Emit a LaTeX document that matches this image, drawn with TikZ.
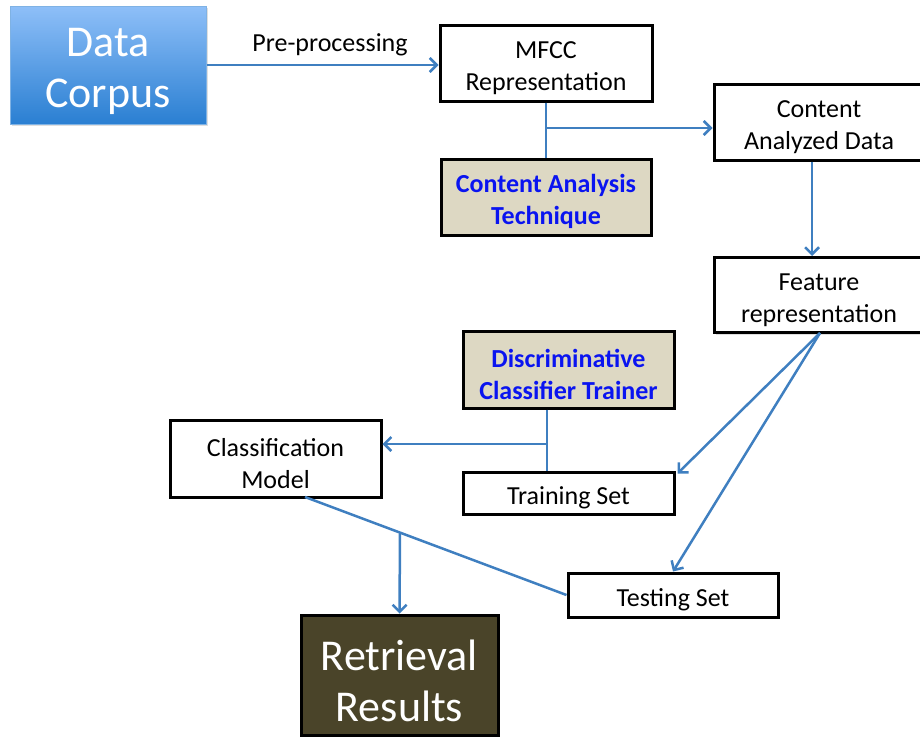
\documentclass[tikz,border=0pt]{standalone}
\usepackage{fontspec}
\setmainfont{Carlito}
\usetikzlibrary{arrows.meta,shadows,calc}
\definecolor{conn}{HTML}{3F7FC0}
\definecolor{beige}{HTML}{DDD8C3}
\definecolor{olive}{HTML}{4A4429}
\definecolor{txtblue}{HTML}{0A14F0}
\definecolor{dctop}{HTML}{8EBFF8}
\definecolor{dcbot}{HTML}{2A7FD2}
\newcommand\boxstrut{\rule{0pt}{28pt}}
\newcommand\bigboxstrut{\rule{0pt}{42pt}}
\tikzset{
  box/.style={draw=black, line width=3pt, fill=white, align=center, inner sep=0pt,
    font=\fontsize{26}{32}\selectfont,
    drop shadow={opacity=0.25, shadow xshift=1.5pt, shadow yshift=-2pt}},
  tech/.style={box, fill=beige, text=txtblue, font=\fontsize{26}{32}\selectfont\bfseries},
  big/.style={align=center, inner sep=0pt, text=white, font=\fontsize{44}{51}\selectfont},
  conn/.style={draw=conn, line width=2.5pt},
  arr/.style={conn, -{Straight Barb[length=7pt,width=14pt,line width=2.5pt]}}
}
\begin{document}
\begin{tikzpicture}[x=1pt,y=-1pt]
\useasboundingbox (0,0) rectangle (920,737);
% nodes
\node[big, draw=dcbot!60, line width=1pt, top color=dctop, bottom color=dcbot,
  minimum width=196pt, minimum height=118pt,
  drop shadow={opacity=0.25, shadow xshift=1.5pt, shadow yshift=-2pt}] (dc) at (108,65) {\bigboxstrut Data\\Corpus};
\node[box, minimum width=212pt, minimum height=76pt] (mfcc) at (546,63) {\boxstrut MFCC\\Representation};
\node[tech, minimum width=210pt, minimum height=76pt] (cat) at (546,197) {\boxstrut Content Analysis\\Technique};
\node[box, minimum width=210pt, minimum height=76pt] (cad) at (819,122) {\boxstrut Content\\Analyzed Data};
\node[box, minimum width=210pt, minimum height=75pt] (fr) at (819,295) {\boxstrut Feature\\representation};
\node[tech, minimum width=211pt, minimum height=77pt] (dct) at (568.5,369.5) {\boxstrut Discriminative\\Classifier Trainer};
\node[box, minimum width=211pt, minimum height=42pt] (ts) at (568.5,493) {\boxstrut Training Set};
\node[box, minimum width=211pt, minimum height=77pt] (cm) at (275.5,458.5) {\boxstrut Classification\\Model};
\node[box, minimum width=210pt, minimum height=44pt] (tes) at (673,595) {\boxstrut Testing Set};
\node[big, draw=black, line width=3pt, fill=olive, minimum width=197pt, minimum height=120pt] (rr) at (399.5,675) {\bigboxstrut Retrieval\\Results};
\node[font=\fontsize{26}{28}\selectfont, inner sep=0pt] (pp) at (330,45) {Pre-processing};
% connectors
\draw[arr] (dc.east |- 0,65) -- (mfcc.west |- 0,65);
\coordinate (j1) at (546,128);
\draw[conn] (mfcc.south) -- (cat.north);
\draw[arr] (j1) -- (cad.west |- j1);
\draw[arr] ([xshift=-7pt]cad.south) -- ([xshift=-7pt]fr.north);
\coordinate (frb) at (820,333);
\draw[arr] (frb) -- ([xshift=2pt,yshift=-3pt]ts.north east);
\draw[arr] (frb) -- (tes.north);
\coordinate (j2) at (547,444);
\draw[conn] ([xshift=-21.5pt]dct.south) -- ([xshift=-21.5pt]ts.north);
\draw[arr] (j2) -- (cm.east |- j2);
\coordinate (cmb) at (305,497);
\draw[conn] (cmb) -- (tes.west);
\coordinate (j3) at (400,533);
\draw[arr] (j3) -- (rr.north);
\end{tikzpicture}
\end{document}
